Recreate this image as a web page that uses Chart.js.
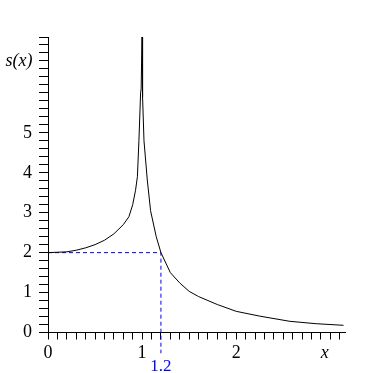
<!DOCTYPE html>
<html>
<head>
    <meta charset="UTF-8">
    <title>s(x)</title>
    <script src="https://cdn.jsdelivr.net/npm/chart.js"></script>
    <style>
        body { margin: 0; background: #fff; }
    </style>
</head>
<body>

<canvas id="sChart" width="382" height="373"></canvas>

<script>
    // curve
    var xs = [0, 0.1, 0.2, 0.3, 0.4, 0.5, 0.6, 0.7, 0.8, 0.86, 0.9, 0.93, 0.95, 0.966, 0.984, 0.99, 1.0,
              1.005, 1.02, 1.055, 1.09, 1.15, 1.2, 1.3, 1.4, 1.5, 1.6, 1.7, 1.8, 2.0, 2.25, 2.57, 2.85, 3.14];
    var ys = [2.0, 2.01, 2.02, 2.06, 2.12, 2.2, 2.31, 2.47, 2.7, 2.9, 3.2, 3.56, 3.9, 4.8, 6.0, 6.1, 7.6,
              5.9, 4.8, 3.82, 3.05, 2.4, 2.0, 1.5, 1.24, 1.03, 0.9, 0.8, 0.7, 0.53, 0.41, 0.28, 0.22, 0.18];

    // dashed guide at x = 1.2, s = 2
    var guideX = [0, 1.2, 1.2];
    var guideY = [2, 2, -0.52];

    var xLabels = [0, 1, 2];
    var yLabels = [0, 1, 2, 3, 4, 5];

    function points(a, b) {
        return a.map(function (v, i) { return { x: v, y: b[i] }; });
    }

    function isIn(list, v) {
        return list.some(function (n) { return Math.abs(n - v) < 1e-6; });
    }

    var serif = "'Liberation Serif', 'DejaVu Serif', serif";

    // axis names and the blue 1.2 mark
    var labelsPlugin = {
        id: 'labels',
        afterDraw: function (chart) {
            var ctx = chart.ctx;
            var sx = chart.scales.x, sy = chart.scales.y;
            var area = chart.chartArea;
            ctx.save();
            ctx.textAlign = 'center';
            ctx.textBaseline = 'middle';
            ctx.fillStyle = '#000';
            ctx.font = 'italic 18px ' + serif;
            ctx.fillText('s(x)', area.left - 29, sy.getPixelForValue(6.78));
            ctx.fillText('x', sx.getPixelForValue(2.94), area.bottom + 21);
            ctx.fillStyle = '#0000ff';
            ctx.font = '17px ' + serif;
            ctx.fillText('1.2', sx.getPixelForValue(1.2), area.bottom + 34);
            ctx.restore();
        }
    };

    new Chart('sChart', {
        type: 'line',
        data: {
            datasets: [
                {
                    data: points(xs, ys),
                    borderColor: '#000',
                    borderWidth: 1,
                    pointRadius: 0,
                    tension: 0,
                    fill: false
                },
                {
                    data: points(guideX, guideY),
                    borderColor: '#0000ff',
                    borderWidth: 1,
                    borderDash: [4, 3],
                    pointRadius: 0,
                    tension: 0,
                    fill: false,
                    clip: false
                }
            ]
        },
        options: {
            responsive: false,
            animation: false,
            layout: { padding: { top: 37, right: 37, left: 0, bottom: 0 } },
            plugins: {
                legend: { display: false },
                tooltip: { enabled: false }
            },
            scales: {
                x: {
                    type: 'linear',
                    min: 0,
                    max: 3.156,
                    afterFit: function (s) { s.height = 40.5; },
                    grid: {
                        drawOnChartArea: false,
                        drawTicks: true,
                        tickLength: 7,
                        tickColor: '#000'
                    },
                    border: { display: true, color: '#000', width: 1 },
                    ticks: {
                        stepSize: 0.1,
                        includeBounds: false,
                        autoSkip: false,
                        maxRotation: 0,
                        padding: 3,
                        color: '#000',
                        font: { family: serif, size: 18 },
                        callback: function (v) { return isIn(xLabels, v) ? String(Math.round(v)) : ''; }
                    }
                },
                y: {
                    type: 'linear',
                    min: 0,
                    max: 7.4,
                    afterFit: function (s) { s.width = 48; },
                    grid: {
                        drawOnChartArea: false,
                        drawTicks: true,
                        tickLength: 9,
                        tickColor: '#000'
                    },
                    border: { display: true, color: '#000', width: 1 },
                    ticks: {
                        stepSize: 0.2,
                        includeBounds: false,
                        autoSkip: false,
                        padding: 7,
                        color: '#000',
                        font: { family: serif, size: 18 },
                        callback: function (v) { return isIn(yLabels, v) ? String(Math.round(v)) : ''; }
                    }
                }
            }
        },
        plugins: [labelsPlugin]
    });
</script>

</body>
</html>
